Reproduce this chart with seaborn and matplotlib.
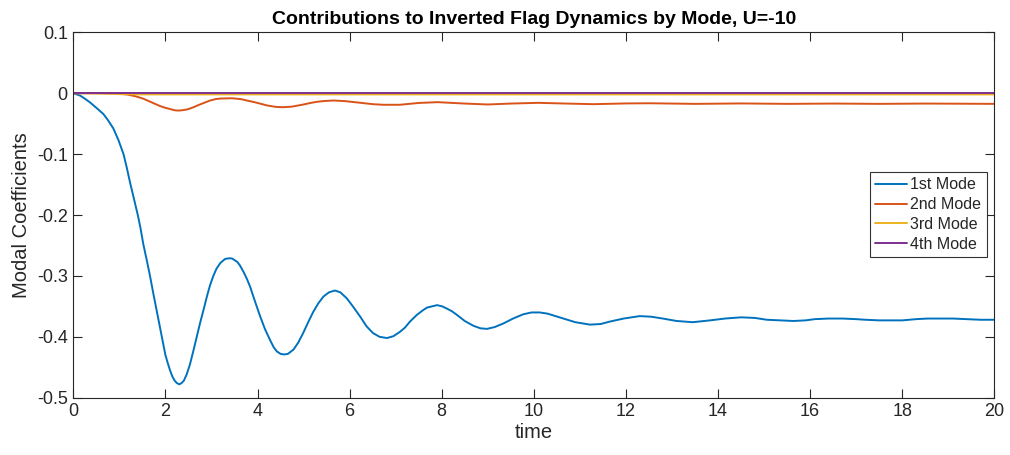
import numpy as np
import pandas as pd
import matplotlib
matplotlib.use("Agg")
import matplotlib.pyplot as plt
import seaborn as sns

# ---- data ----
t1 = [0, 0.15, 0.25, 0.36, 0.5, 0.65, 0.75, 0.87, 0.98, 1.09, 1.16, 1.23, 1.30, 1.40,
      1.46, 1.52, 1.60, 1.665, 1.74, 1.81, 1.86, 1.92, 2.00, 2.05, 2.10, 2.15, 2.20,
      2.25, 2.30, 2.35, 2.40, 2.46, 2.53, 2.61, 2.68, 2.75, 2.83, 2.90, 2.97, 3.04,
      3.11, 3.19, 3.25, 3.30, 3.40, 3.45, 3.50, 3.56, 3.62, 3.70, 3.77, 3.84, 3.95,
      4.06, 4.16, 4.27, 4.35, 4.42, 4.50, 4.58, 4.66, 4.78, 4.88, 4.99, 5.10, 5.21,
      5.32, 5.43, 5.55, 5.68, 5.80, 5.94, 6.08, 6.23, 6.37, 6.51, 6.65, 6.81, 6.95,
      7.09, 7.20, 7.31, 7.46, 7.58, 7.68, 7.90, 8.01, 8.12, 8.22, 8.33, 8.50, 8.69,
      8.84, 8.98, 9.15, 9.34, 9.55, 9.77, 9.95, 10.13, 10.30, 10.64, 10.90, 11.22,
      11.45, 11.65, 11.95, 12.30, 12.55, 12.80, 13.10, 13.45, 13.83, 14.15, 14.50,
      14.80, 15.06, 15.35, 15.64, 15.90, 16.10, 16.40, 16.70, 17.00, 17.20, 17.50,
      17.75, 18.00, 18.30, 18.55, 18.85, 19.10, 19.40, 19.70, 20.0]
v1 = [0, -0.004, -0.009, -0.015, -0.024, -0.034, -0.044, -0.058, -0.077, -0.100, -0.122,
      -0.146, -0.168, -0.200, -0.222, -0.248, -0.276, -0.300, -0.330, -0.357, -0.377,
      -0.400, -0.430, -0.443, -0.455, -0.465, -0.472, -0.476, -0.478, -0.476, -0.472,
      -0.462, -0.446, -0.422, -0.400, -0.378, -0.355, -0.334, -0.315, -0.300, -0.288,
      -0.279, -0.275, -0.272, -0.271, -0.2715, -0.274, -0.277, -0.283, -0.294, -0.305,
      -0.318, -0.343, -0.367, -0.387, -0.405, -0.417, -0.424, -0.428, -0.429, -0.428,
      -0.421, -0.410, -0.394, -0.376, -0.359, -0.345, -0.334, -0.327, -0.324, -0.327,
      -0.337, -0.351, -0.367, -0.383, -0.394, -0.400, -0.402, -0.399, -0.392, -0.385,
      -0.375, -0.364, -0.357, -0.352, -0.348, -0.350, -0.354, -0.358, -0.364, -0.374,
      -0.382, -0.386, -0.387, -0.384, -0.378, -0.370, -0.363, -0.360, -0.360, -0.362,
      -0.370, -0.376, -0.380, -0.379, -0.375, -0.370, -0.366, -0.367, -0.370, -0.374,
      -0.376, -0.373, -0.370, -0.368, -0.369, -0.372, -0.373, -0.374, -0.373, -0.371,
      -0.370, -0.370, -0.371, -0.372, -0.373, -0.373, -0.373, -0.371, -0.370, -0.370,
      -0.370, -0.371, -0.372, -0.372]

t2 = [0, 0.65, 0.90, 1.16, 1.35, 1.52, 1.70, 1.88, 2.00, 2.10, 2.20, 2.28, 2.36, 2.45,
      2.52, 2.61, 2.70, 2.80, 2.97, 3.10, 3.20, 3.33, 3.44, 3.55, 3.66, 3.77, 3.95,
      4.20, 4.40, 4.56, 4.75, 5.00, 5.15, 5.30, 5.45, 5.65, 5.90, 6.23, 6.50, 6.73,
      7.09, 7.50, 7.91, 8.50, 9.00, 9.50, 10.10, 10.70, 11.30, 12.00, 12.50, 13.50,
      14.50, 15.50, 16.50, 17.50, 18.50, 20.0]
v2 = [0, 0, -0.0005, -0.002, -0.005, -0.009, -0.015, -0.021, -0.024, -0.026, -0.028,
      -0.0285, -0.028, -0.027, -0.0255, -0.023, -0.020, -0.017, -0.012, -0.0095,
      -0.0088, -0.0085, -0.0083, -0.009, -0.010, -0.012, -0.015, -0.020, -0.0225,
      -0.023, -0.022, -0.0185, -0.016, -0.014, -0.0128, -0.012, -0.013, -0.0157,
      -0.018, -0.019, -0.019, -0.016, -0.0147, -0.017, -0.0185, -0.017, -0.0158,
      -0.017, -0.018, -0.0168, -0.0165, -0.0175, -0.0168, -0.0175, -0.017, -0.0175,
      -0.017, -0.0175]

t3 = [0, 0.5, 1.0, 1.5, 20.0]
v3 = [0, -0.0005, -0.0015, -0.002, -0.002]

t4 = [0, 20.0]
v4 = [0, 0]

labels = ["1st Mode", "2nd Mode", "3rd Mode", "4th Mode"]
colors = ["#0072BD", "#D95319", "#EDB120", "#7E2F8E"]

xticks = [0, 2, 4, 6, 8, 10, 12, 14, 16, 18, 20]
yticks = [0.1, 0, -0.1, -0.2, -0.3, -0.4, -0.5]
ytick_labels = ["0.1", "0", "-0.1", "-0.2", "-0.3", "-0.4", "-0.5"]

# ---- build long table ----
frames = []
for lab, t, v in zip(labels, [t1, t2, t3, t4], [v1, v2, v3, v4]):
    frames.append(pd.DataFrame({"time": t, "value": v, "mode": lab}))
df = pd.concat(frames, ignore_index=True)

sns.set_theme(style="ticks")
plt.rcParams["font.family"] = ["Liberation Sans", "DejaVu Sans"]

fig = plt.figure(figsize=(10.10, 4.55), dpi=100)
ax = fig.add_axes([0.0726, 0.1259, 0.9119, 0.8031])

axc = "#262626"
sns.lineplot(data=df, x="time", y="value", hue="mode", hue_order=labels,
             palette=colors, estimator=None, sort=True, linewidth=1.4, ax=ax)

ax.set_xlim(0, 20)
ax.set_ylim(-0.5, 0.1)
ax.set_xticks(xticks)
ax.set_xticklabels([str(x) for x in xticks])
ax.set_yticks(yticks)
ax.set_yticklabels(ytick_labels)

ax.tick_params(direction="in", length=6.5, width=0.8, color=axc, labelcolor=axc,
               labelsize=13, top=True, right=True, pad=4)
for s in ax.spines.values():
    s.set_visible(True)
    s.set_color(axc)
    s.set_linewidth(0.8)

ax.set_xlabel("time", fontsize=14.5, color=axc, labelpad=2)
ax.set_ylabel("Modal Coefficients", fontsize=14.5, color=axc, labelpad=4)
ax.set_title("Contributions to Inverted Flag Dynamics by Mode, U=-10",
             fontsize=14, fontweight="bold", color="black", pad=6)

leg = ax.legend(loc="upper right", bbox_to_anchor=(0.992, 0.6185), fontsize=11.5,
                frameon=True, fancybox=False, framealpha=1, edgecolor="#333333",
                borderpad=0.35, labelspacing=0.3, handlelength=2.0, handletextpad=0.2,
                borderaxespad=0.0)
leg.get_frame().set_linewidth(0.8)
for txt in leg.get_texts():
    txt.set_color(axc)

fig.savefig("out.png", dpi=100)
